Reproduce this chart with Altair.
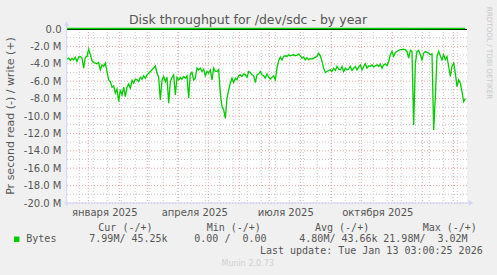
import altair as alt
import pandas as pd

# ---------------- data (M bytes/s; read plotted negative) -------------
read_values = [
    -3.46, -3.35, -3.62, -3.38, -3.54, -3.27, -3.73, -3.23, -3.15, -3.35,
    -4.50, -3.23, -3.15, -2.31, -2.96, -3.65, -3.85, -3.92, -4.00, -3.85,
    -4.69, -4.12, -4.31, -3.92, -4.88, -5.85, -6.04, -6.69, -6.54, -7.38,
    -6.92, -8.35, -7.00, -7.58, -6.69, -7.77, -6.69, -6.31, -6.81, -5.92,
    -6.23, -5.77, -5.85, -6.04, -5.54, -5.77, -5.38, -5.65, -5.27, -5.08,
    -4.88, -4.69, -4.50, -4.23, -5.08, -5.54, -8.15, -5.85, -5.46, -6.04,
    -5.54, -8.54, -6.04, -5.54, -5.27, -7.58, -5.54, -5.85, -5.58, -5.77,
    -5.46, -5.65, -5.38, -7.96, -5.15, -5.00, -5.85, -5.65, -4.50, -4.69,
    -4.50, -4.88, -4.62, -5.38, -4.88, -5.08, -4.69, -5.85, -4.50, -4.88,
    -4.88, -4.69, -7.38, -8.92, -9.31, -10.27, -7.96, -7.00, -6.23, -5.65,
    -6.15, -5.65, -5.85, -5.38, -5.27, -5.46, -5.15, -5.27, -5.54, -4.88, -5.00,
    -5.27, -5.38, -6.15, -5.27, -5.15, -4.88, -5.27, -5.38, -5.65, -5.15,
    -5.54, -5.77, -5.54, -5.38, -5.85, -4.50, -3.62, -3.23, -3.54, -3.15,
    -3.08, -3.15, -2.96, -3.08, -3.00, -2.96, -3.08, -3.00, -2.88, -3.08,
    -3.35, -3.23, -3.54, -3.31, -3.54, -3.38, -3.46, -3.35, -3.23, -3.15,
    -2.77, -3.08, -3.73, -4.50, -5.00, -4.88, -4.77, -4.69, -4.88, -4.50,
    -4.77, -4.31, -4.62, -4.69, -4.31, -4.88, -4.50, -4.69, -4.62, -4.31,
    -4.77, -4.50, -4.31, -4.69, -4.38, -4.12, -4.69, -4.31, -4.00, -4.50,
    -4.23, -4.31, -4.12, -4.38, -4.23, -4.12, -4.31, -4.04, -4.50, -4.12,
    -4.00, -4.23, -3.73, -2.96, -2.58, -3.15, -2.69, -2.58, -2.46, -2.38,
    -2.38, -2.31, -2.38, -2.58, -3.35, -2.46, -2.58, -11.04, -4.00, -2.58,
    -2.46, -2.96, -3.54, -2.77, -2.58, -2.69, -2.77, -2.96, -2.85, -11.62,
    -7.77, -3.16, -2.58, -3.08, -3.54, -2.96, -3.54, -3.16, -4.31, -5.46,
    -4.31, -3.92, -5.08, -6.62, -5.85, -6.23, -7.20, -8.35, -8.00,
]
read_start = "2024-12-10T17:00"
read_step = "40h"

write_dates = ["2024-12-10T17:00", "2025-04-01T00:00", "2025-08-01T00:00",
               "2025-11-01T00:00", "2026-01-13T00:00"]
write_values = [0.05, 0.04, 0.05, 0.04, 0.05]

y_major = [-2, -4, -6, -8, -10, -12, -14, -16, -18, -20]
y_minor = [-1, -3, -5, -7, -9, -11, -13, -15, -17, -19]
y_label_values = [0, -2, -4, -6, -8, -10, -12, -14, -16, -18, -20]

month_names = ["января", "февраля", "марта", "апреля", "мая", "июня", "июля",
               "августа", "сентября", "октября", "ноября", "декабря"]
x_label_dates = [alt.DateTime(year=2025, month=m, date=17) for m in (1, 4, 7, 10)]

title_text = "Disk throughput for /dev/sdc - by year"
y_title = "Pr second read (-) / write (+)"
legend_header = ["Cur (-/+)", "Min (-/+)", "Avg (-/+)", "Max (-/+)"]
legend_name = "Bytes"
legend_vals = ["7.99M/ 45.25k", "0.00 /  0.00", "4.80M/ 43.66k", "21.98M/  3.02M"]
last_update = "Last update: Tue Jan 13 03:00:25 2026"
munin_ver = "Munin 2.0.73"
watermark = "RRDTOOL / TOBI OETIKER"

# ---------------- frames ----------------
read_df = pd.DataFrame({
    "t": pd.date_range(pd.Timestamp(read_start), periods=len(read_values), freq=read_step),
    "v": read_values,
})
write_df = pd.DataFrame({"t": pd.to_datetime(write_dates, format="ISO8601"), "v": write_values})
month_df = pd.DataFrame({"t": pd.date_range("2025-01-01", "2026-01-01", freq="MS")})
week_df = pd.DataFrame({"t": pd.date_range("2024-12-23", "2026-01-12", freq="14D")})
ymaj_df = pd.DataFrame({"v": y_major})
ymin_df = pd.DataFrame({"v": y_minor})
one = pd.DataFrame({"a": [0]})

FONT = "DejaVu Sans"
MONO = "DejaVu Sans Mono"
TXT = "#555555"
GREEN = "#00cc00"
AXIS_C = "#CFD6F8"

x_scale = alt.Scale(domain=[alt.DateTime(year=2024, month=12, date=10, hours=17),
                            alt.DateTime(year=2026, month=1, date=14, hours=17)])
y_scale = alt.Scale(domain=[-20, 0], nice=False, zero=False)

month_expr = "[" + ",".join("'" + m + "'" for m in month_names) + "]"
X = alt.X("t:T", scale=x_scale, title=None,
          axis=alt.Axis(values=x_label_dates, grid=False, domain=False, ticks=False,
                        labelExpr=month_expr + "[month(datum.value)] + ' ' + year(datum.value)",
                        labelFont=FONT, labelFontSize=10, labelColor=TXT,
                        labelBaseline="middle", labelPadding=9, labelAlign="center",
                        labelOverlap=False, labelFlush=False))
Y = alt.Y("v:Q", scale=y_scale, title=None,
          axis=alt.Axis(values=y_label_values, grid=False, domain=False, ticks=False,
                        labelExpr="datum.value == 0 ? '0.0\u00a0\u00a0' : '-' + format(-datum.value, '.1f') + ' M'",
                        labelFont=FONT, labelFontSize=10, labelColor=TXT, labelPadding=6,
                        labelOverlap=False, labelFlush=False))

DOT = [1, 2]
ymin_l = alt.Chart(ymin_df).mark_rule(color="#c8c8c8", strokeDash=DOT, strokeWidth=1).encode(y=Y)
xmin_l = alt.Chart(week_df).mark_rule(color="#c8c8c8", strokeDash=DOT, strokeWidth=1).encode(x=X)
ymaj_l = alt.Chart(ymaj_df).mark_rule(color="#e8a0a0", strokeDash=DOT, strokeWidth=1).encode(y=Y)
xmaj_l = alt.Chart(month_df).mark_rule(color="#e8a0a0", strokeDash=DOT, strokeWidth=1).encode(x=X)

zero_l = alt.Chart(one).mark_rule(color="#000000", strokeWidth=1).encode(
    y=alt.value(0.5), x=alt.value(0), x2=alt.value(400))
write_l = alt.Chart(write_df).mark_line(color=GREEN, strokeWidth=1.6).encode(x=X, y=Y)
read_l = alt.Chart(read_df).mark_line(color=GREEN, strokeWidth=1.3).encode(x=X, y=Y)

# axis lines + arrows
yaxis_l = alt.Chart(one).mark_rule(color=AXIS_C, strokeWidth=1).encode(
    x=alt.value(-0.3), y=alt.value(-4), y2=alt.value(177))
xaxis_l = alt.Chart(one).mark_rule(color=AXIS_C, strokeWidth=1).encode(
    y=alt.value(174), x=alt.value(-3), x2=alt.value(402))
yarrow = alt.Chart(one).mark_point(shape="triangle-up", filled=True, size=28, color=AXIS_C, opacity=1).encode(
    x=alt.value(-0.3), y=alt.value(-5.5))
xarrow = alt.Chart(one).mark_point(shape="triangle-right", filled=True, size=28, color=AXIS_C, opacity=1).encode(
    x=alt.value(404), y=alt.value(174))


def txt(s, x, y, font=FONT, size=10, color=TXT, align="left", baseline="middle", angle=0):
    return alt.Chart(one).mark_text(font=font, fontSize=size, color=color, align=align,
                                    baseline=baseline, angle=angle).encode(
        x=alt.value(x), y=alt.value(y), text=alt.value(s))


def nb(s):
    return s.replace(" ", "\u00a0")


texts = [
    txt(title_text, 181, -5, size=12.5, align="center", baseline="alphabetic"),
    txt(y_title, -56, 87, size=11, align="center", angle=270),
    txt(watermark, 421.5, 24, size=7.2, color="#c8c8c8", align="center", angle=90),
    txt(munin_ver, 180.7, 235, size=8, color="#cfcfcf", align="center"),
    txt(nb(last_update), 415.7, 222, font=MONO, align="right"),
    txt(legend_name, -40.7, 210.3, font=MONO),
]
for s, x in zip(legend_header, [31.3, 139.7, 248, 355.7]):
    texts.append(txt(nb(s), x, 198.7, font=MONO))
for s, x in zip(legend_vals, [22.3, 127.3, 232.3, 316.3]):
    texts.append(txt(nb(s), x, 210.3, font=MONO))

swatch = alt.Chart(one).mark_square(color=GREEN, size=30, opacity=1).encode(
    x=alt.value(16.7 - 67), y=alt.value(239.3 - 29))

chart = alt.layer(
    ymin_l, xmin_l, ymaj_l, xmaj_l, zero_l, write_l, read_l,
    yaxis_l, xaxis_l, yarrow, xarrow, swatch, *texts
).properties(
    width=400, height=174,
    background="#f0f0f0",
    autosize=alt.AutoSizeParams(type="none"),
    padding={"left": 67, "top": 29, "right": 30, "bottom": 72},
).configure_view(fill="#ffffff", strokeWidth=0)

chart.save("out.html", embed_options={"renderer": "svg", "actions": False})
